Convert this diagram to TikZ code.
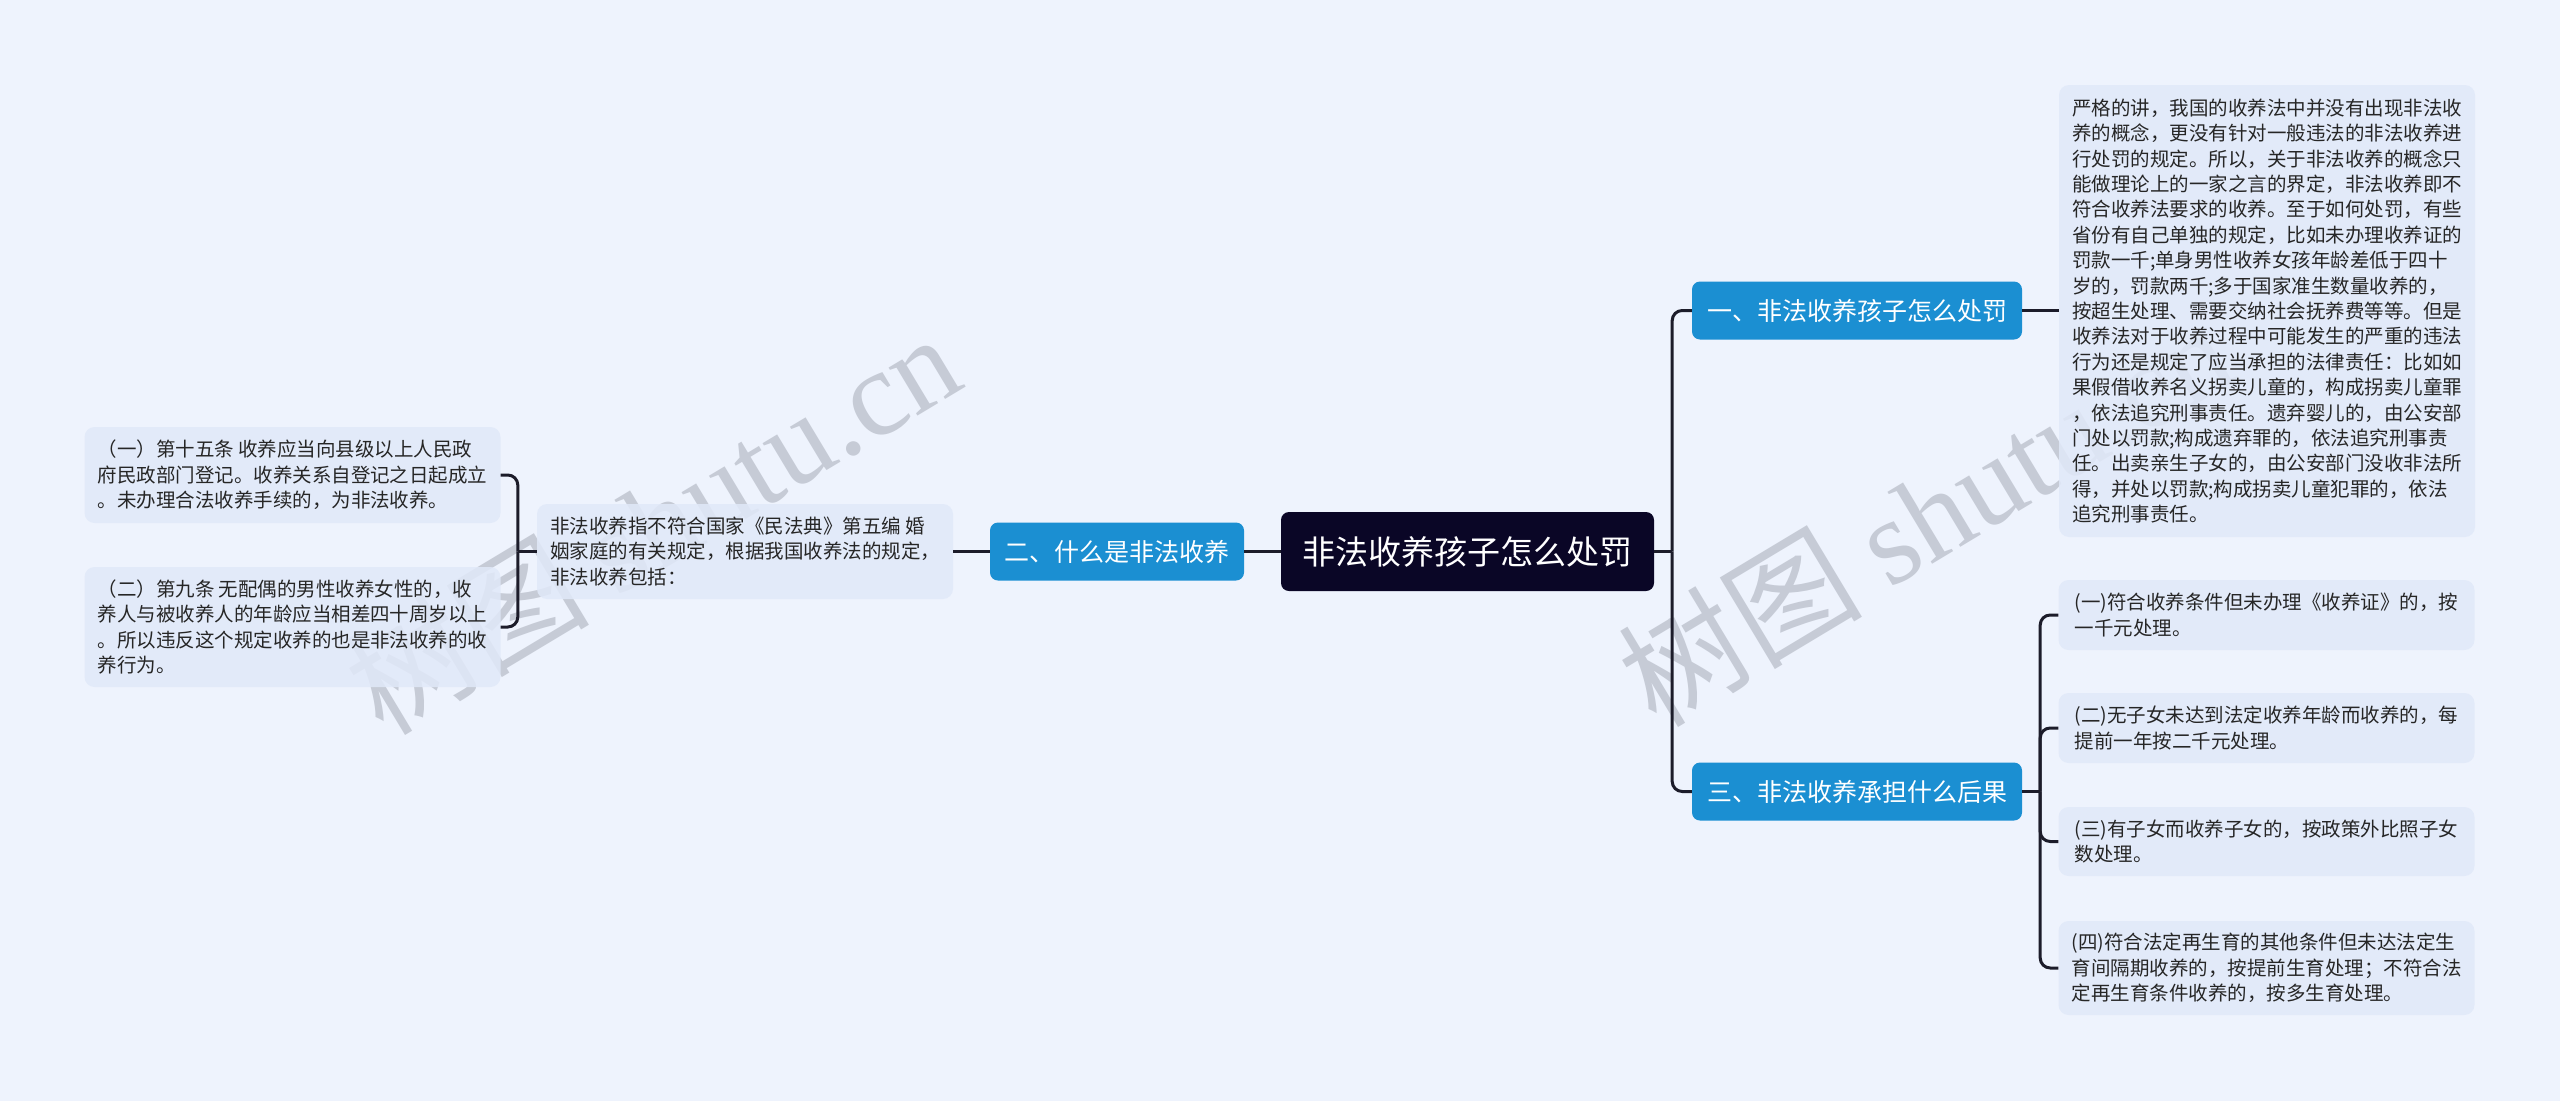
\documentclass[tikz,border=0pt]{standalone}
\usepackage{fontspec}
\setmainfont{Noto Sans CJK SC}
\newfontfamily\wmlatin{Liberation Serif}
\usepackage{xcolor}
\usetikzlibrary{positioning}

\definecolor{bgcol}{HTML}{EEF3FD}
\definecolor{boxcol}{HTML}{E1E9F9}
\definecolor{bluecol}{HTML}{1B8FD2}
\definecolor{rootcol}{HTML}{0A0626}
\definecolor{linecol}{HTML}{1C1C2A}
\definecolor{wmcol}{HTML}{C6CBD6}

\begin{document}
\begin{tikzpicture}[x=1pt, y=-1pt,
    link/.style={draw=linecol, line width=3pt, rounded corners=10pt},
    root/.style={fill=rootcol, text=white, rounded corners=8pt, minimum width=373pt, minimum height=79pt, font=\fontsize{33}{40}\selectfont},
    topic/.style={fill=bluecol, text=white, rounded corners=8pt, minimum height=58pt, font=\fontsize{25}{30}\selectfont},
    leaf/.style={fill=boxcol, fill opacity=0.85, text opacity=1, text=black!85, rounded corners=10pt, minimum width=416pt, align=left, inner xsep=8pt, font=\fontsize{19.5}{25.4}\selectfont},
    wmark/.style={text=wmcol, rotate=31, font=\fontsize{122}{122}\selectfont}]

    % Background
    \fill[bgcol] (0,0) rectangle (2560,1101);
    \useasboundingbox (0,0) rectangle (2560,1101);

    % Watermarks
    \node[wmark] (wm1) at (652,522) {树图 {\wmlatin shutu.cn}};
    \node[wmark] (wm2) at (1925,514) {树图 {\wmlatin shutu.cn}};

    % Root and topics
    \node[root] (root) at (1467.5,551.5) {非法收养孩子怎么处罚};
    \node[topic, minimum width=330pt] (t1) at (1857,310.5) {一、非法收养孩子怎么处罚};
    \node[topic, minimum width=254pt] (t2) at (1117,551.5) {二、什么是非法收养};
    \node[topic, minimum width=330pt] (t3) at (1857,791.5) {三、非法收养承担什么后果};

    % Right side details
    \node[leaf, minimum height=452pt] (d1) at (2267,311) {严格的讲，我国的收养法中并没有出现非法收\\养的概念，更没有针对一般违法的非法收养进\\行处罚的规定。所以，关于非法收养的概念只\\能做理论上的一家之言的界定，非法收养即不\\符合收养法要求的收养。至于如何处罚，有些\\省份有自己单独的规定，比如未办理收养证的\\罚款一千;单身男性收养女孩年龄差低于四十\\岁的，罚款两千;多于国家准生数量收养的，\\按超生处理、需要交纳社会抚养费等等。但是\\收养法对于收养过程中可能发生的严重的违法\\行为还是规定了应当承担的法律责任：比如如\\果假借收养名义拐卖儿童的，构成拐卖儿童罪\\，依法追究刑事责任。遗弃婴儿的，由公安部\\门处以罚款;构成遗弃罪的，依法追究刑事责\\任。出卖亲生子女的，由公安部门没收非法所\\得，并处以罚款;构成拐卖儿童犯罪的，依法\\追究刑事责任。};
    \node[leaf, minimum height=70pt] (r1) at (2266.5,615) {(一)符合收养条件但未办理《收养证》的，按\\一千元处理。};
    \node[leaf, minimum height=70pt] (r2) at (2266.5,728) {(二)无子女未达到法定收养年龄而收养的，每\\提前一年按二千元处理。};
    \node[leaf, minimum height=69pt] (r3) at (2266.5,841.5) {(三)有子女而收养子女的，按政策外比照子女\\数处理。};
    \node[leaf, minimum height=94pt] (r4) at (2266.5,968) {(四)符合法定再生育的其他条件但未达法定生\\育间隔期收养的，按提前生育处理；不符合法\\定再生育条件收养的，按多生育处理。};

    % Left side details
    \node[leaf, minimum height=95pt] (mid) at (745,551.5) {非法收养指不符合国家《民法典》第五编 婚\\姻家庭的有关规定，根据我国收养法的规定，\\非法收养包括：};
    \node[leaf, minimum height=96pt] (l1) at (292.5,475) {（一）第十五条 收养应当向县级以上人民政\\府民政部门登记。收养关系自登记之日起成立\\。未办理合法收养手续的，为非法收养。};
    \node[leaf, minimum height=120pt] (l2) at (292.5,627) {（二）第九条 无配偶的男性收养女性的，收\\养人与被收养人的年龄应当相差四十周岁以上\\。所以违反这个规定收养的也是非法收养的收\\养行为。};

    % Connectors
    \coordinate[right=18pt of root.east] (jr);
    \draw[link] (root.east) -- (jr);
    \draw[link] (jr) |- (t1.west);
    \draw[link] (jr) |- (t3.west);
    \draw[link] (root.west) -- (t2.east);
    \draw[link] (t2.west) -- (t2.west -| mid.east);
    \draw[link] (t1.east) -- (t1.east -| d1.west);

    \coordinate[right=18pt of t3.east] (jt);
    \draw[link] (t3.east) -- (jt);
    \foreach \n in {r1,r2,r3,r4}
        \draw[link] (jt) |- (\n.west);

    \coordinate[left=19pt of mid.west] (jl);
    \draw[link] (mid.west) -- (jl);
    \draw[link] (jl) |- (l1.east);
    \draw[link] (jl) |- (l2.east);

\end{tikzpicture}
\end{document}
